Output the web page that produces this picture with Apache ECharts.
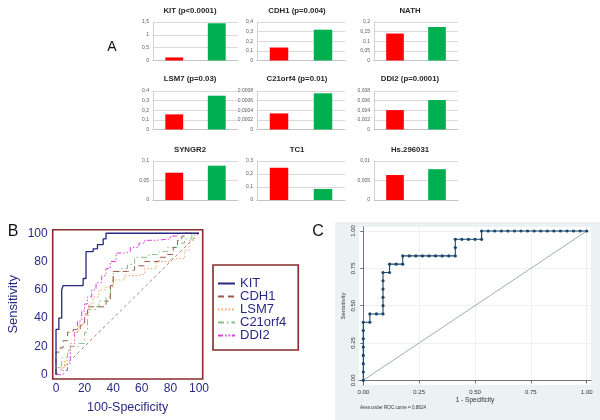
<!DOCTYPE html>
<html><head><meta charset="utf-8">
<script src="https://cdn.jsdelivr.net/npm/echarts@6/dist/echarts.min.js"></script>
<style>html,body{margin:0;padding:0;background:#fff}#c{width:600px;height:420px}</style>
</head><body><div id="c"></div>
<script>
// ---------- Panel A data ----------
const aTitles = ['KIT (p<0.0001)','CDH1 (p=0.004)','NATH','LSM7 (p=0.03)','C21orf4 (p=0.01)','DDI2 (p=0.0001)','SYNGR2','TC1','Hs.296031'];
const aGroups = ['Group 1','Group 2'];
const aRed   = [0.12, 0.135, 0.14, 0.157, 0.000334, 0.00403, 0.070, 0.248, 0.0064];
const aGreen = [1.45, 0.32, 0.174, 0.351, 0.000752, 0.00612, 0.088, 0.085, 0.0079];
const aMax   = [1.5, 0.4, 0.2, 0.4, 0.0008, 0.008, 0.1, 0.3, 0.01];
const aStep  = [0.5, 0.1, 0.05, 0.1, 0.0002, 0.002, 0.05, 0.1, 0.005];

// ---------- Panel B data ----------
const bNames = ['KIT','CDH1','LSM7','C21orf4','DDI2'];
const bKIT = [[0,0],[0,32],[2,32],[2,40],[4,40],[4,60],[5,60],[5,63],[19,63],[19,68],[21,68],[21,87],[26,87],[26,89],[29,89],[29,92],[33,92],[33,96],[35,96],[35,100],[100,100]];
const bCDH1 = [[0,0],[0,16],[3,16],[3,19],[5,19],[5,24],[8,24],[8,30],[12,30],[12,32],[17,32],[17,35],[20,35],[20,43],[22,43],[22,48],[35,48],[35,52],[38,52],[38,63],[40,63],[40,73],[50,73],[50,74],[55,74],[55,77],[62,77],[62,80],[72,80],[72,83],[78,83],[78,85],[82,85],[82,90],[85,90],[85,95],[88,95],[88,98],[90,98],[90,100],[100,100]];
const bLSM7 = [[0,0],[0,5],[6,5],[6,10],[8,10],[8,16],[10,16],[10,22],[13,22],[13,30],[16,30],[16,36],[20,36],[20,42],[23,42],[23,50],[26,50],[26,55],[30,55],[30,60],[35,60],[35,62],[40,62],[40,67],[48,67],[48,70],[55,70],[55,71],[62,71],[62,75],[70,75],[70,80],[80,80],[80,82],[90,82],[90,88],[93,88],[93,95],[97,95],[97,100],[100,100]];
const bC21orf4 = [[0,0],[0,5],[4,5],[4,12],[8,12],[8,17],[10,17],[10,20],[16,20],[16,22],[20,22],[20,30],[22,30],[22,46],[28,46],[28,48],[30,48],[30,52],[35,52],[35,55],[38,55],[38,63],[40,63],[40,73],[45,73],[45,75],[50,75],[50,78],[55,78],[55,83],[65,83],[65,85],[72,85],[72,87],[78,87],[78,90],[85,90],[85,93],[90,93],[90,96],[95,96],[95,100],[100,100]];
const bDDI2 = [[0,0],[5,0],[5,3],[8,3],[8,8],[10,8],[10,20],[13,20],[13,30],[15,30],[15,38],[18,38],[18,45],[20,45],[20,50],[22,50],[22,55],[25,55],[25,60],[28,60],[28,65],[32,65],[32,70],[35,70],[35,75],[38,75],[38,80],[42,80],[42,86],[48,86],[48,87],[52,87],[52,90],[58,90],[58,93],[62,93],[62,95],[70,95],[70,96],[80,96],[80,98],[85,98],[85,100],[100,100]];
const bDiagonal = [[0,0],[100,100]];
const bTicks = [0,20,40,60,80,100];

// ---------- Panel C data ----------
const cFpr = [0,0,0,0,0,0,0,0,0.0294,0.0294,0.0588,0.0882,0.0882,0.0882,0.0882,0.0882,0.0882,0.1176,0.1176,0.1471,0.1765,0.1765,0.2059,0.2353,0.2647,0.2941,0.3235,0.3529,0.3824,0.4118,0.4118,0.4118,0.4412,0.4706,0.5,0.5294,0.5294,0.5588,0.5882,0.6176,0.6471,0.6765,0.7059,0.7353,0.7647,0.7941,0.8235,0.8529,0.8824,0.9118,0.9412,0.9706,1];
const cTpr = [0,0.0556,0.1111,0.1667,0.2222,0.2778,0.3333,0.3889,0.3889,0.4444,0.4444,0.4444,0.5,0.5556,0.6111,0.6667,0.7222,0.7222,0.7778,0.7778,0.7778,0.8333,0.8333,0.8333,0.8333,0.8333,0.8333,0.8333,0.8333,0.8333,0.8889,0.9444,0.9444,0.9444,0.9444,0.9444,1,1,1,1,1,1,1,1,1,1,1,1,1,1,1,1,1];
const cDiagonal = [[0,0],[1,1]];
const cTicks = [0,0.25,0.5,0.75,1];
const cAucText = 'Area under ROC curve = 0.8824';

// ---------- layout ----------
const colLeft = [153,257,374], colW = [85,88,84];
const rowTop = [22,91,161], rowH = [38.5,38.5,39];
const titleY = [11,79,150];
const titleX = [190,297,410];

const grids = [], xAxes = [], yAxes = [], series = [], graphics = [];
const fmtComma = v => String(parseFloat(Number(v).toPrecision(6))).replace('.', ',');

for (let i = 0; i < 9; i++) {
  const r = Math.floor(i/3), c = i%3;
  grids.push({left: colLeft[c], top: rowTop[r], width: colW[c], height: rowH[r], containLabel: false});
  xAxes.push({type:'category', gridIndex:i, data:aGroups,
    axisLine:{show:true, lineStyle:{color:'#bfbfbf', width:0.8}},
    axisTick:{show:false}, axisLabel:{show:false}});
  yAxes.push({type:'value', gridIndex:i, min:0, max:aMax[i], interval:aStep[i],
    axisLine:{show:true, lineStyle:{color:'#c8c8c8', width:0.8}},
    axisTick:{show:false},
    axisLabel:{fontSize:5, color:'#595959', margin:4, fontFamily:'Liberation Sans', formatter: fmtComma},
    splitLine:{show:true, lineStyle:{color:'#c8c8c8', width:0.7}}});
  series.push({type:'bar', xAxisIndex:i, yAxisIndex:i, barWidth:'42%', silent:true,
    data:[{value:aRed[i], itemStyle:{color:'#ff0000'}},{value:aGreen[i], itemStyle:{color:'#00b050'}}]});
  graphics.push({type:'text', x:titleX[c], y:titleY[r], style:{text:aTitles[i], align:'center', verticalAlign:'middle',
    font:'bold 7.8px "Liberation Sans"', fill:'#262626'}});
}

// Panel B grid (index 9)
grids.push({left:52.7, top:229.7, width:150, height:149.3, show:true, borderColor:'#8b2a2a', borderWidth:1.6, backgroundColor:'transparent'});
xAxes.push({type:'value', gridIndex:9, min:-2.31, max:102.6,
  name:'100-Specificity', nameLocation:'middle', nameGap:22,
  nameTextStyle:{fontSize:12.5, color:'#2a2a86', fontFamily:'Liberation Sans'},
  axisLine:{show:false}, axisTick:{show:false}, splitLine:{show:false},
  axisLabel:{customValues:bTicks, fontSize:12, color:'#2a2a86', margin:4, fontFamily:'Liberation Sans'}});
yAxes.push({type:'value', gridIndex:9, min:-3.04, max:102.5,
  name:'Sensitivity', nameLocation:'middle', nameGap:33, nameRotate:90,
  nameTextStyle:{fontSize:13, color:'#2a2a86', fontFamily:'Liberation Sans'},
  axisLine:{show:false}, axisTick:{show:false}, splitLine:{show:false},
  axisLabel:{customValues:bTicks, fontSize:12, color:'#2a2a86', margin:5, fontFamily:'Liberation Sans'}});

const bStyles = [
  {color:'#27297f', width:1.3, type:'solid'},
  {color:'#9b5a4c', width:1, type:[6,4]},
  {color:'#f2a068', width:1, type:[1.5,2]},
  {color:'#86c086', width:1, type:[6,3,1.5,3]},
  {color:'#e03ee0', width:1, type:[5,2,1.5,2,1.5,2]}
];
const bData = [bKIT,bCDH1,bLSM7,bC21orf4,bDDI2];
series.push({type:'line', name:'diag', xAxisIndex:9, yAxisIndex:9, data:bDiagonal, symbol:'none', silent:true,
  lineStyle:{color:'#a0604a', width:0.8, type:[3,3]}});
for (let k = bData.length-1; k >= 0; k--) {
  series.push({type:'line', name:bNames[k], xAxisIndex:9, yAxisIndex:9, data:bData[k], symbol:'none', silent:true,
    itemStyle:{color:bStyles[k].color}, lineStyle:bStyles[k]});
}

// Panel C grid (index 10)
grids.push({left:359, top:227, width:232, height:158, show:true, backgroundColor:'#ffffff', borderWidth:0});
xAxes.push({type:'value', gridIndex:10, min:-0.0192, max:1.0192,
  name:'1 - Specificity', nameLocation:'middle', nameGap:12,
  nameTextStyle:{fontSize:6.5, color:'#333', fontFamily:'Liberation Sans'},
  axisLine:{show:true, lineStyle:{color:'#555', width:0.8}},
  axisTick:{show:true, customValues:cTicks, length:3, lineStyle:{color:'#555', width:0.8}},
  splitLine:{show:true, lineStyle:{color:'#e8eeee', width:0.8}},
  axisLabel:{customValues:cTicks, fontSize:6, color:'#333', margin:4, fontFamily:'Liberation Sans', formatter:v=>Number(v).toFixed(2)}});
yAxes.push({type:'value', gridIndex:10, min:-0.0315, max:1.0268,
  name:'Sensitivity', nameLocation:'middle', nameGap:13, nameRotate:90,
  nameTextStyle:{fontSize:6, color:'#333', fontFamily:'Liberation Sans'},
  axisLine:{show:true, lineStyle:{color:'#555', width:0.8}},
  axisTick:{show:true, customValues:cTicks, length:3, lineStyle:{color:'#555', width:0.8}},
  splitLine:{show:true, lineStyle:{color:'#e8eeee', width:0.8}},
  axisLabel:{customValues:cTicks, rotate:90, fontSize:6, color:'#333', margin:3, fontFamily:'Liberation Sans', formatter:v=>Number(v).toFixed(2)}});
series.push({type:'line', xAxisIndex:10, yAxisIndex:10, data:cDiagonal, symbol:'none', silent:true,
  lineStyle:{color:'#7f9c9a', width:0.8}});
series.push({type:'line', xAxisIndex:10, yAxisIndex:10, data:cFpr.map((x,j)=>[x,cTpr[j]]), symbol:'circle', symbolSize:3.2, silent:true,
  itemStyle:{color:'#1a476f'}, lineStyle:{color:'#1a476f', width:1.1}});

// panel decorations
graphics.unshift({type:'rect', shape:{x:335, y:222, width:265, height:198}, style:{fill:'#eaf2f3'}, z:-10});
graphics.push({type:'text', x:360, y:408, style:{text:cAucText, font:'4.6px "Liberation Sans"', fill:'#333', verticalAlign:'middle'}});
graphics.push({type:'text', x:112, y:47, style:{text:'A', font:'14px "Liberation Sans"', fill:'#111', align:'center', verticalAlign:'middle'}});
graphics.push({type:'text', x:13, y:232, style:{text:'B', font:'16px "Liberation Sans"', fill:'#111', align:'center', verticalAlign:'middle'}});
graphics.push({type:'text', x:318, y:232, style:{text:'C', font:'16px "Liberation Sans"', fill:'#111', align:'center', verticalAlign:'middle'}});

const chart = echarts.init(document.getElementById('c'), null, {renderer:'canvas'});
chart.setOption({
  animation:false,
  backgroundColor:'#ffffff',
  grid:grids, xAxis:xAxes, yAxis:yAxes, series:series,
  legend:{data:bNames, orient:'vertical', left:213, top:265, itemWidth:17, itemHeight:14, itemGap:0,
    itemStyle:{opacity:0, borderWidth:0},
    padding:[12,12,8,4], borderColor:'#8b2a2a', borderWidth:1.6, backgroundColor:'#fff',
    textStyle:{fontSize:13, color:'#2a2a86', fontFamily:'Liberation Sans'}, selectedMode:false},
  graphic:{elements:graphics}
});
</script></body></html>
